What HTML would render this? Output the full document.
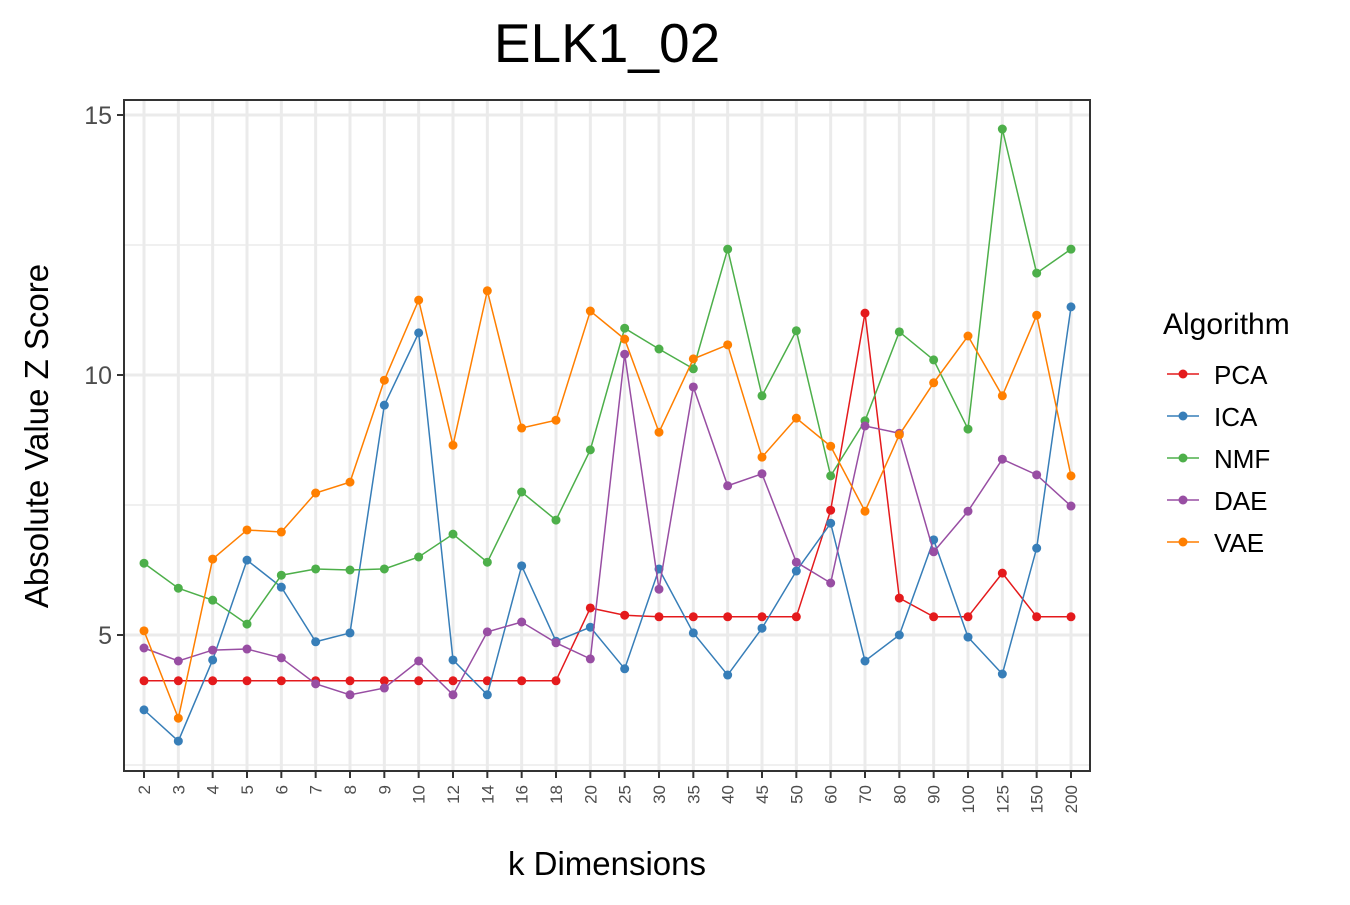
<!DOCTYPE html>
<html><head><meta charset="utf-8"><style>
body{margin:0;background:#fff;font-family:"Liberation Sans",Arial,sans-serif}
svg text{font-family:"Liberation Sans",Arial,sans-serif}
</style></head><body>
<svg id="chart" width="1350" height="900" xmlns="http://www.w3.org/2000/svg">
<text x="607" y="62" font-size="55" text-anchor="middle">ELK1_02</text>
<g id="grid"></g><g id="series"></g><g id="axes"></g>
<text x="607" y="875" font-size="33" text-anchor="middle">k Dimensions</text>
<text transform="translate(48,436) rotate(-90)" font-size="33" text-anchor="middle">Absolute Value Z Score</text>
<text x="1163" y="334" font-size="30">Algorithm</text>
<g id="legend"></g>
</svg>
<script>
const categories=["2","3","4","5","6","7","8","9","10","12","14","16","18","20","25","30","35","40","45","50","60","70","80","90","100","125","150","200"];
const pca=[4.12,4.12,4.12,4.12,4.12,4.12,4.12,4.12,4.12,4.12,4.12,4.12,4.12,5.52,5.38,5.35,5.35,5.35,5.35,5.35,7.4,11.19,5.71,5.35,5.35,6.19,5.35,5.35];
const ica=[3.56,2.96,4.52,6.44,5.92,4.87,5.04,9.42,10.81,4.52,3.85,6.33,4.88,5.15,4.35,6.27,5.04,4.23,5.13,6.23,7.15,4.5,5.0,6.83,4.96,4.25,6.67,11.31];
const nmf=[6.38,5.9,5.67,5.21,6.15,6.27,6.25,6.27,6.5,6.94,6.4,7.75,7.21,8.56,10.9,10.5,10.12,12.42,9.6,10.85,8.06,9.12,10.83,10.29,8.96,14.73,11.96,12.42];
const dae=[4.75,4.5,4.71,4.73,4.56,4.06,3.85,3.98,4.5,3.85,5.06,5.25,4.85,4.54,10.4,5.88,9.77,7.87,8.1,6.4,6.0,9.02,8.88,6.6,7.38,8.38,8.08,7.48];
const vae=[5.08,3.4,6.46,7.02,6.98,7.73,7.94,9.9,11.44,8.65,11.62,8.98,9.13,11.23,10.69,8.9,10.31,10.58,8.42,9.17,8.63,7.38,8.85,9.85,10.75,9.6,11.15,8.06];
const seriesNames=["PCA","ICA","NMF","DAE","VAE"];
const seriesVals=[pca,ica,nmf,dae,vae];
const colors=["#e41a1c","#377eb8","#4daf4a","#984ea3","#ff7f00"];
const yTicks=[5,10,15];
const yMinor=[2.5,7.5,12.5];
const NS="http://www.w3.org/2000/svg";
const L=124,R=1090,T=100,B=771;
const x=i=>144+i*(1071-144)/(categories.length-1);
const y=v=>115+(15-v)*52;
function mk(tag,attrs,parent){const e=document.createElementNS(NS,tag);for(const k in attrs)e.setAttribute(k,attrs[k]);document.getElementById(parent).appendChild(e);return e;}
yMinor.forEach(v=>{const e=mk('line',{x1:L,x2:R,y1:y(v),y2:y(v),stroke:'#ebebeb','stroke-width':1.5},'grid');

});
yTicks.forEach(v=>{const e=mk('line',{x1:L,x2:R,y1:y(v),y2:y(v),stroke:'#ebebeb','stroke-width':3},'grid');

});
categories.forEach((c,i)=>{const e=mk('line',{x1:x(i),x2:x(i),y1:T,y2:B,stroke:'#ebebeb','stroke-width':3},'grid');

});
seriesVals.forEach((vals,s)=>{
const p=mk('polyline',{points:vals.map((v,i)=>x(i)+','+y(v)).join(' '),fill:'none',stroke:colors[s],'stroke-width':1.5},'series');


vals.forEach((v,i)=>{const c=mk('circle',{cx:x(i),cy:y(v),r:4.5,fill:colors[s]},'series');

});});
const fr=mk('rect',{x:L,y:T,width:R-L,height:B-T,fill:'none',stroke:'#333','stroke-width':2},'axes');


yTicks.forEach(v=>{mk('line',{x1:L-7,x2:L,y1:y(v),y2:y(v),stroke:'#333','stroke-width':2},'axes');
const t=mk('text',{x:L-12,y:y(v)+9,'font-size':25,fill:'#4d4d4d','text-anchor':'end'},'axes');t.textContent=v;

});
categories.forEach((c,i)=>{mk('line',{x1:x(i),x2:x(i),y1:B,y2:B+7,stroke:'#333','stroke-width':2},'axes');
const t=mk('text',{transform:`translate(${x(i)+6},${B+14}) rotate(-90)`,'font-size':17,fill:'#4d4d4d','text-anchor':'end'},'axes');t.textContent=c;

});
seriesNames.forEach((n,s)=>{const yy=374+s*42;
const g=mk('g',{},'legend');


mk('line',{x1:1167,x2:1199,y1:yy,y2:yy,stroke:colors[s],'stroke-width':1.5},'legend');
mk('circle',{cx:1183,cy:yy,r:4.5,fill:colors[s]},'legend');
const t=mk('text',{x:1214,y:yy+10,'font-size':26},'legend');t.textContent=n;});
</script>
</body></html>
